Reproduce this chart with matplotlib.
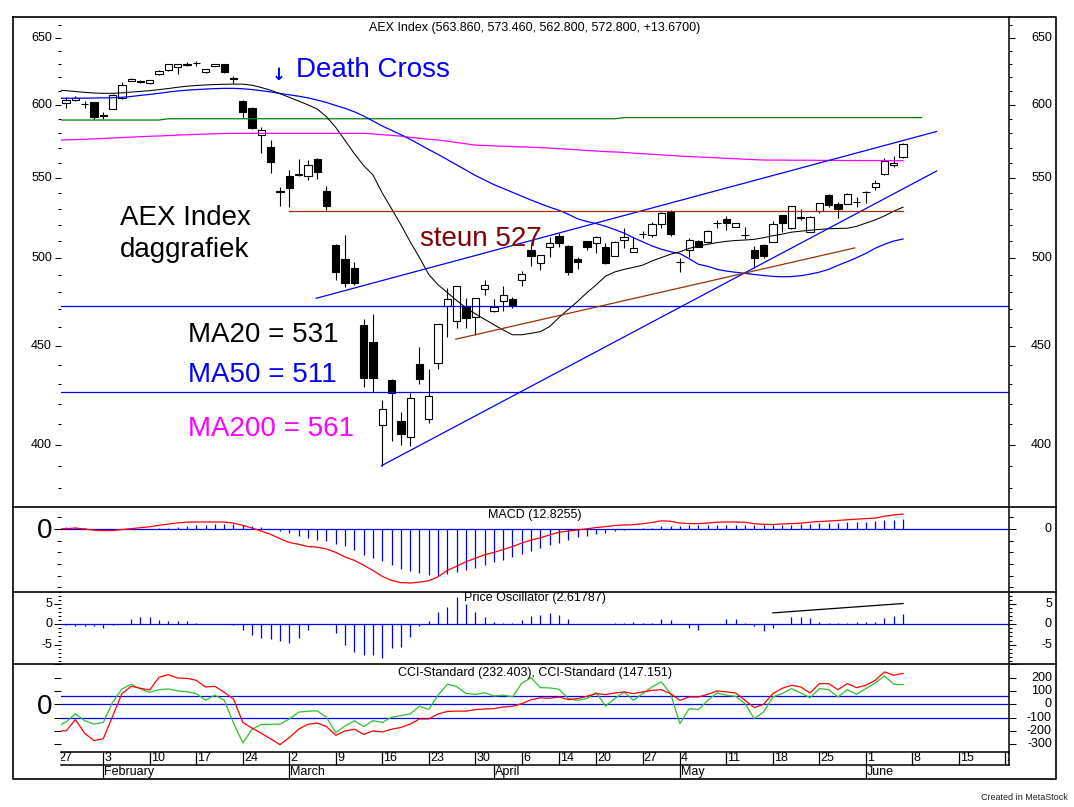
import numpy as np
import pandas as pd
import matplotlib
matplotlib.use("Agg")
import matplotlib.pyplot as plt
from matplotlib.lines import Line2D
from matplotlib.ticker import FixedLocator, NullFormatter

plt.rcParams['font.family'] = ['Liberation Sans', 'DejaVu Sans']

W, H = 1074, 807
X0, X1 = 60.7, 1009.3        # plot area in pixels
XLIM = (0.42, 102.42)        # trading-day index

# Euronext trading days (closed Good Friday, Easter Monday, 1 May)
days = pd.bdate_range("2020-01-27", "2020-06-22")
days = days[~days.isin(pd.to_datetime(["2020-04-10", "2020-04-13", "2020-05-01"]))]

# AEX daily candles, 28 Jan - 5 Jun 2020
opens = [601.3, 603.4, 600.8, 601.8, 592.5, 596.7, 604.7, 617.5, 617.0, 615.6,
         622.2, 625.2, 627.4, 629.5, 630.7, 623.7, 628.4, 629.7, 619.2, 602.7,
         597.5, 578.5, 570.3, 541.5, 551.3, 552.0, 551.1, 562.4, 541.3, 507.6,
         499.0, 493.6, 461.3, 451.9, 409.4, 432.0, 411.4, 403.8, 440.3, 412.2,
         441.0, 471.9, 463.5, 471.9, 465.9, 481.4, 469.3, 474.7, 475.7, 486.8,
         504.5, 496.6, 506.5, 513.0, 506.9, 499.1, 510.0, 508.6, 506.2, 501.1,
         510.6, 503.5, 514.0, 513.6, 520.2, 528.1, 497.6, 504.5, 510.0, 509.2,
         520.8, 523.5, 518.4, 513.5, 504.5, 507.6, 509.6, 526.1, 517.8, 524.3,
         515.3, 528.8, 538.8, 533.0, 533.0, 534.0, 541.0, 543.7, 552.2, 558.4,
         563.86]
highs = [605.4, 606.2, 603.0, 602.2, 594.6, 607.8, 616.3, 619.5, 618.2, 618.0,
         625.4, 630.0, 630.0, 631.2, 632.5, 626.5, 630.0, 630.0, 621.3, 603.4,
         598.2, 584.1, 575.3, 543.7, 555.1, 562.4, 561.7, 563.3, 544.8, 508.0,
         513.6, 497.5, 464.5, 467.3, 421.8, 432.6, 416.0, 425.2, 449.5, 437.6,
         462.0, 482.0, 483.5, 476.3, 476.5, 486.8, 475.9, 483.3, 476.8, 492.1,
         507.6, 501.5, 512.6, 514.7, 507.6, 500.5, 510.2, 513.0, 508.6, 509.8,
         517.8, 512.6, 516.3, 521.5, 528.1, 529.2, 499.6, 511.7, 510.6, 516.5,
         523.0, 525.4, 521.0, 518.4, 506.9, 508.2, 522.5, 526.2, 531.9, 529.8,
         525.4, 533.7, 539.4, 534.1, 539.8, 537.7, 541.4, 548.5, 562.9, 564.4,
         573.46]
lows = [597.4, 603.0, 598.0, 589.9, 589.9, 596.7, 604.5, 617.0, 615.6, 615.4,
        622.0, 625.0, 622.6, 628.5, 628.5, 623.5, 628.2, 623.5, 615.6, 590.4,
        582.7, 566.2, 553.3, 531.9, 530.9, 551.0, 548.5, 548.9, 529.2, 486.8,
        482.9, 484.0, 428.6, 425.7, 389.9, 401.9, 399.8, 399.3, 430.0, 410.6,
        437.6, 454.9, 459.5, 459.5, 455.9, 478.2, 468.6, 469.1, 470.6, 483.5,
        495.0, 492.6, 500.5, 506.5, 489.7, 493.2, 504.5, 502.9, 496.2, 501.0,
        505.6, 503.3, 511.6, 512.6, 517.8, 513.0, 491.6, 500.5, 506.2, 509.0,
        518.1, 516.7, 518.3, 511.2, 493.6, 499.9, 509.4, 515.6, 517.6, 523.0,
        515.2, 527.1, 531.3, 524.0, 532.9, 530.9, 533.8, 542.0, 552.0, 556.9,
        562.80]
closes = [603.4, 605.0, 600.5, 591.0, 592.3, 607.0, 614.3, 618.9, 616.8, 617.8,
          624.7, 629.7, 629.7, 629.8, 631.0, 626.2, 629.7, 623.7, 618.8, 594.6,
          583.4, 582.2, 560.6, 541.0, 543.1, 552.4, 558.4, 553.6, 531.9, 491.6,
          485.2, 484.9, 432.9, 433.2, 417.2, 425.2, 404.9, 422.7, 432.5, 423.9,
          461.7, 475.7, 483.3, 465.4, 476.3, 483.9, 471.5, 478.2, 471.9, 490.1,
          500.9, 501.4, 509.0, 508.6, 491.6, 497.2, 506.5, 512.6, 496.6, 509.6,
          512.6, 505.6, 514.3, 520.2, 527.1, 514.1, 497.3, 510.6, 506.5, 516.3,
          521.0, 521.2, 520.9, 513.7, 499.9, 500.9, 520.2, 521.2, 531.7, 524.5,
          524.6, 533.5, 532.4, 529.6, 539.4, 534.2, 540.7, 546.3, 561.3, 559.5,
          572.80]

# moving averages, 27 Jan - 5 Jun
ma20 = [610.7, 610.2, 609.6, 609.0, 608.5, 608.3, 608.3, 608.6, 609.2, 609.7,
        610.2, 611.0, 611.8, 612.7, 613.5, 614.0, 614.4, 614.7, 614.9, 615.0,
        615.0, 614.2, 612.5, 610.5, 608.0, 605.4, 602.7, 600.0, 597.0, 591.5,
        584.0, 575.0, 566.0, 558.0, 551.8, 540.0, 530.0, 520.0, 509.5, 500.0,
        490.0, 484.0, 479.5, 475.0, 471.0, 467.5, 464.5, 461.5, 458.6, 456.0,
        456.0, 456.8, 457.7, 460.5, 465.5, 470.0, 474.5, 479.5, 484.0, 489.0,
        491.5, 493.0, 494.2, 495.5, 498.0, 500.0, 502.0, 503.5, 505.5, 507.0,
        508.0, 509.0, 509.8, 510.3, 510.6, 511.0, 512.0, 513.2, 514.2, 515.4,
        516.0, 516.6, 517.1, 517.5, 517.7, 517.8, 519.0, 521.0, 523.0, 525.5,
        528.5, 531.0]
ma50 = [604.7, 604.7, 604.8, 604.8, 604.9, 605.0, 605.1, 605.4, 606.0, 606.8,
        607.5, 608.3, 609.2, 610.0, 610.6, 611.0, 611.4, 611.7, 611.9, 611.9,
        611.6, 611.0, 610.2, 609.3, 608.2, 607.2, 606.2, 605.0, 603.4, 601.7,
        599.5, 597.5, 595.0, 592.0, 588.5, 585.0, 582.0, 579.0, 575.8, 572.3,
        568.8, 565.5, 562.0, 558.5, 555.0, 551.5, 548.5, 545.5, 543.0, 540.5,
        538.0, 535.5, 533.2, 531.0, 529.0, 526.5, 523.7, 522.0, 520.7, 519.0,
        517.0, 514.8, 512.0, 509.5, 507.0, 505.0, 503.5, 502.4, 499.3, 496.0,
        494.8, 493.0, 492.0, 491.3, 490.7, 490.0, 489.4, 488.9, 488.7, 488.8,
        489.3, 490.2, 491.4, 493.0, 495.4, 497.6, 499.9, 502.5, 505.6, 508.0,
        510.0, 511.2]
ma200 = [575.3, 575.4, 575.6, 575.8, 576.1, 576.4, 576.7, 577.0, 577.3, 577.6,
         577.9, 578.1, 578.4, 578.7, 579.0, 579.2, 579.4, 579.6, 579.8, 579.9,
         579.9, 579.9, 579.9, 579.9, 579.9, 579.9, 579.9, 579.9, 579.9, 579.9,
         579.9, 579.9, 579.9, 579.9, 579.5, 579.0, 578.5, 578.0, 577.2, 576.5,
         575.8, 575.3, 574.5, 573.6, 572.7, 571.8, 571.6, 571.3, 571.1, 570.9,
         570.6, 570.4, 570.1, 569.8, 569.4, 569.0, 568.6, 568.2, 567.8, 567.4,
         567.2, 566.8, 566.4, 566.0, 565.6, 565.2, 564.8, 564.4, 564.1, 563.8,
         563.5, 563.2, 562.9, 562.6, 562.3, 562.0, 561.7, 561.7, 561.7, 561.6,
         561.6, 561.6, 561.5, 561.5, 561.5, 561.4, 561.4, 561.4, 561.4, 561.3,
         561.3, 561.3]
green_level = [589.2] * 12 + [590.1] * 49 + [590.9] * 33

# drawn lines: (start index, end index), (start value, end value)
upper_channel = ([27.9, 94.6], [476.3, 581.2])
lower_trend = ([34.9, 94.6], [390.0, 554.4])
support_527 = ([25, 91], [528.8, 528.8])
brown_trend = ([42.9, 85.8], [453.6, 505.8])
blue_levels = [471.9, 426.0]

# indicators, 27 Jan - 5 Jun
macd = [0.0, 0.3, 0.8, 0.0, -1.0, -1.4, -1.3, -0.5, 0.3, 1.1,
        1.9, 3.2, 4.2, 5.2, 5.9, 6.0, 6.0, 6.0, 5.9, 5.1,
        3.0, 0.8, -1.8, -4.6, -8.3, -11.5, -13.1, -15.0, -15.5, -17.1,
        -20.0, -24.0, -26.8, -31.0, -35.5, -40.5, -44.0, -45.8, -46.2, -45.4,
        -44.2, -40.8, -35.4, -31.8, -28.0, -25.0, -22.0, -20.0, -17.6, -15.0,
        -12.0, -9.5, -7.5, -5.0, -2.8, -1.8, -0.8, 0.2, 1.2, 2.0,
        3.0, 3.4, 3.7, 4.5, 5.6, 7.0, 6.6, 5.1, 4.6, 4.6,
        5.1, 5.8, 6.0, 6.0, 5.8, 4.5, 4.0, 3.8, 4.3, 4.6,
        5.0, 5.8, 6.4, 6.8, 7.3, 7.9, 8.4, 8.9, 9.3, 11.0,
        12.0, 12.8]
macd_hist = [1.2, 1.5, 1.5, 0.8, 0.0, -0.3, -0.3, 0.0, 0.0, 0.0,
             0.3, 0.6, 0.9, 2.0, 2.8, 3.1, 3.7, 4.0, 4.5, 4.5,
             3.7, 2.8, 1.4, 0.0, -1.5, -3.4, -5.7, -7.7, -9.1, -10.6,
             -12.6, -14.8, -17.7, -22.0, -24.8, -27.7, -30.5, -34.0, -36.2, -37.6,
             -39.1, -39.9, -38.5, -37.0, -35.3, -33.3, -31.0, -28.5, -26.2, -23.9,
             -21.0, -18.5, -16.0, -14.0, -12.0, -9.7, -7.2, -5.7, -4.0, -3.4,
             -2.0, -1.2, 0.0, 0.5, 0.9, 2.3, 2.8, 2.8, 3.1, 3.1,
             3.1, 3.1, 3.1, 3.1, 3.1, 3.1, 3.1, 3.1, 3.4, 3.7,
             4.3, 4.5, 5.1, 5.1, 5.1, 5.7, 6.0, 6.3, 7.1, 7.4,
             8.0, 8.8]
price_osc = [-0.2, -0.2, -0.4, -0.4, -0.5, -0.8, -0.3, 0.1, 1.35, 1.9,
             1.7, 1.1, 0.84, 0.84, 0.84, 0.42, 0.1, 0.0, 0.0, -0.2,
             -1.4, -2.7, -3.4, -3.7, -4.2, -4.5, -3.4, -1.4, 0.0, 0.0,
             -2.1, -5.2, -6.7, -7.5, -7.5, -8.4, -5.9, -5.5, -3.1, -0.4,
             0.84, 2.9, 4.2, 6.7, 4.9, 3.0, 1.7, 0.5, 0.25, 0.4,
             1.1, 2.0, 2.35, 2.8, 2.35, 1.35, 0.0, 0.0, 0.08, 0.1,
             0.25, 0.25, 0.5, 0.25, 0.4, 1.35, 1.1, 0.0, -0.85, -1.4,
             0.0, 0.0, 1.35, 1.35, 0.25, -0.4, -1.6, -1.0, 0.1, 1.7,
             1.9, 1.5, 0.67, 0.4, 0.4, 0.25, 0.5, 0.67, 0.67, 1.6,
             2.0, 2.62]
osc_trend = ([77, 91], [2.8, 5.1])
cci_red = [-200, -200, -115, -218, -272, -259, -90, 80, 135, 120,
           108, 203, 223, 197, 195, 180, 130, 135, 90, 40,
           -136, -179, -218, -260, -303, -250, -187, -150, -141, -167,
           -233, -200, -187, -226, -200, -208, -187, -174, -149, -110,
           -110, -72, -54, -51, -51, -40, -35, -33, -20, -15,
           5, 34, 49, 45, 55, 35, 43, 60, 80, 73,
           85, 93, 80, 93, 105, 110, 80, 30, 55, 55,
           75, 100, 93, 85, 30, -25, 0, 80, 120, 143,
           130, 85, 155, 155, 110, 155, 125, 143, 180, 243,
           218, 232.4]
cci_green = [-170, -132, -72, -123, -149, -136, 15, 115, 151, 115,
             90, 110, 115, 100, 95, 80, 31, 69, 31, -140,
             -290, -187, -151, -150, -149, -110, -59, -52, -49, -97,
             -213, -162, -123, -167, -123, -136, -97, -85, -72, -15,
             -38, 69, 151, 133, 82, 74, 87, 62, 69, 56,
             159, 200, 125, 123, 113, 43, 30, 43, 88, -13,
             43, 93, 30, 80, 130, 168, 80, -145, -33, -40,
             30, 85, 68, 60, 5, -108, -58, 55, 80, 118,
             85, 50, 118, 110, 55, 110, 75, 118, 160, 213,
             150, 147.2]
cci_levels = [60, 0, -100]

BLUE, RED, MAGENTA = "#0000FF", "#FF0000", "#FF00FF"
BROWN, MAROON = "#993300", "#800000"

fig = plt.figure(figsize=(W / 100, H / 100), dpi=100)


def px_axes(top, bottom):
    ax = fig.add_axes([X0 / W, 1 - bottom / H, (X1 - X0) / W, (bottom - top) / H])
    ax.set_xlim(*XLIM)
    ax.set_facecolor("none")
    for s in ax.spines.values():
        s.set_visible(False)
    ax.tick_params(axis="x", bottom=False, labelbottom=False)
    return ax


def y_ticks(ax, major, minor, major_len=4.3, minor_len=2.2):
    ax.yaxis.set_major_locator(FixedLocator(major))
    ax.yaxis.set_minor_locator(FixedLocator(minor))
    ax.yaxis.set_major_formatter(NullFormatter())
    ax.yaxis.set_minor_formatter(NullFormatter())
    ax.tick_params(axis="y", which="both", left=True, right=True, direction="out",
                   labelleft=False, labelright=False, width=0.75, color="black")
    ax.tick_params(axis="y", which="major", length=major_len)
    ax.tick_params(axis="y", which="minor", length=minor_len)


def side_labels(ax, values, texts, left=True, right=True, size=9):
    for v, t in zip(values, texts):
        if left:
            ax.text((52 - X0) / (X1 - X0), v, t, transform=ax.get_yaxis_transform(),
                    ha="right", va="center", fontsize=size, clip_on=False)
        if right:
            ax.text((1052 - X0) / (X1 - X0), v, t, transform=ax.get_yaxis_transform(),
                    ha="right", va="center", fontsize=size, clip_on=False)


def ftext(x, y, s, **kw):
    fig.text(x / W, 1 - y / H, s, **kw)


def fline(xs, ys, lw=1.1, color="black"):
    fig.add_artist(Line2D([x / W for x in xs], [1 - y / H for y in ys],
                          transform=fig.transFigure, color=color, lw=lw))


ind_x = np.arange(len(macd))

# ---------------- main price panel ----------------
ax = px_axes(17, 506.7)
ax.set_yscale("log")
ax.set_ylim(371.4, 666.3)
y_ticks(ax, [400, 450, 500, 550, 600, 650],
        [v for v in range(380, 670, 10) if v % 50 != 0])
side_labels(ax, [650, 600, 550, 500, 450, 400], ["650", "600", "550", "500", "450", "400"])

o, h, l, c = map(np.array, (opens, highs, lows, closes))
cx = np.arange(1, 1 + len(o))
ax.vlines(cx, l, h, color="black", lw=0.8, zorder=2)
body_lo = np.minimum(o, c)
body_h = np.maximum(np.abs(c - o), 0.25)
ax.bar(cx, body_h, bottom=body_lo, width=0.78,
       color=np.where(c >= o, "white", "black"), edgecolor="black", linewidth=0.8, zorder=2)

ax.plot(np.arange(len(green_level)), green_level, color="#008000", lw=0.9, zorder=3)
ax.plot(ind_x, ma200, color=MAGENTA, lw=0.9, zorder=3)
ax.plot(ind_x, ma50, color=BLUE, lw=0.9, zorder=3)
ax.plot(ind_x, ma20, color="black", lw=0.75, zorder=3)
for lvl in blue_levels:
    ax.axhline(lvl, color=BLUE, lw=0.9, zorder=3)
for xs, ys in (upper_channel, lower_trend):
    ax.plot(xs, ys, color=BLUE, lw=0.9, zorder=3)
for xs, ys in (support_527, brown_trend):
    ax.plot(xs, ys, color=BROWN, lw=0.9, zorder=3)

ftext(535, 27.7, "AEX Index (563.860, 573.460, 562.800, 572.800, +13.6700)",
      ha="center", va="center", fontsize=9)
ftext(278.5, 75, "\u2193", ha="center", va="center", fontsize=12, color=BLUE,
      fontweight="bold", family="DejaVu Sans")
ftext(295.5, 76.7, "Death Cross", ha="left", va="baseline", fontsize=20, color=BLUE)
ftext(120, 225, "AEX Index", ha="left", va="baseline", fontsize=20)
ftext(120, 256.7, "daggrafiek", ha="left", va="baseline", fontsize=20)
ftext(420, 246, "steun 527", ha="left", va="baseline", fontsize=20, color=MAROON)
ftext(188, 341.7, "MA20 = 531", ha="left", va="baseline", fontsize=20)
ftext(188, 381.7, "MA50 = 511", ha="left", va="baseline", fontsize=20, color=BLUE)
ftext(188, 436, "MA200 = 561", ha="left", va="baseline", fontsize=20, color=MAGENTA)

# ---------------- MACD ----------------
ax = px_axes(506.7, 591.7)
ax.set_ylim(-53.6, 19.06)
y_ticks(ax, [0], [-50, -40, -30, -20, -10, 10], major_len=5, minor_len=2.8)
side_labels(ax, [0], ["0"], left=False)
ax.axhline(0, color=BLUE, lw=0.9)
ax.vlines(ind_x, 0, macd_hist, color=BLUE, lw=0.9)
ax.plot(ind_x, macd, color=RED, lw=0.9)
ftext(535, 515, "MACD (12.8255)", ha="center", va="center", fontsize=9)
ftext(45, 530.5, "0", ha="center", va="center", fontsize=20)

# ---------------- Price oscillator ----------------
ax = px_axes(591.7, 664.3)
ax.set_ylim(-9.83, 8.0)
y_ticks(ax, [-5, 0, 5], [v for v in range(-9, 9) if v % 5 != 0], major_len=5, minor_len=2.5)
side_labels(ax, [5, 0, -5], ["5", "0", "-5"])
ax.axhline(0, color=BLUE, lw=0.9)
ax.vlines(ind_x, 0, price_osc, color=BLUE, lw=0.9)
ax.plot(*osc_trend, color="black", lw=0.9)
ftext(535, 598, "Price Oscillator (2.61787)", ha="center", va="center", fontsize=9)

# ---------------- CCI ----------------
ax = px_axes(664.3, 751.7)
ax.set_ylim(-356, 300.3)
y_ticks(ax, [-300, -200, -100, 0, 100, 200, 300], [], major_len=5)
side_labels(ax, [200, 100, 0, -100, -200, -300],
            ["200", "100", "0", "-100", "-200", "-300"], left=False)
for lvl in cci_levels:
    ax.axhline(lvl, color=BLUE, lw=0.9)
ax.plot(ind_x, cci_green, color="#30C030", lw=0.9)
ax.plot(ind_x, cci_red, color=RED, lw=0.9)
ftext(535, 673, "CCI-Standard (232.403), CCI-Standard (147.151)",
      ha="center", va="center", fontsize=9)
ftext(45, 706.7, "0", ha="center", va="center", fontsize=20)

# ---------------- date axis ----------------
ax = px_axes(751.7, 779.3)
ax.set_ylim(0, 1)
ax.tick_params(axis="y", left=False, labelleft=False)
mid = 1 - (765 - 751.7) / (779.3 - 751.7)
for i, d in enumerate(days):
    if i == 0 or d.week != days[i - 1].week:
        ax.vlines(i, mid, 1, color="black", lw=0.9)
        ax.text(i + 0.12, (1 + mid) / 2, str(d.day), ha="left", va="center",
                fontsize=9, clip_on=True)
    if i > 0 and d.month != days[i - 1].month:
        ax.vlines(i, 0, mid, color="black", lw=0.9)
        ax.text(i + 0.12, mid / 2, d.strftime("%B"), ha="left", va="center",
                fontsize=9, clip_on=True)

# ---------------- frame ----------------
fline([13.3, 1056, 1056, 13.3, 13.3], [17, 17, 779.3, 779.3, 17], lw=1.2)
for yy in (506.7, 591.7, 664.3):
    fline([13.3, 1056], [yy, yy], lw=1.2)
fline([X0, X1], [751.7, 751.7], lw=1.1)
fline([X0, X1], [765, 765], lw=1.1)
fline([X1, X1], [17, 765], lw=1.1)

ftext(1068, 798, "Created in MetaStock", ha="right", va="center", fontsize=6.5,
      color="#222222")

fig.savefig("out.png", dpi=100)
